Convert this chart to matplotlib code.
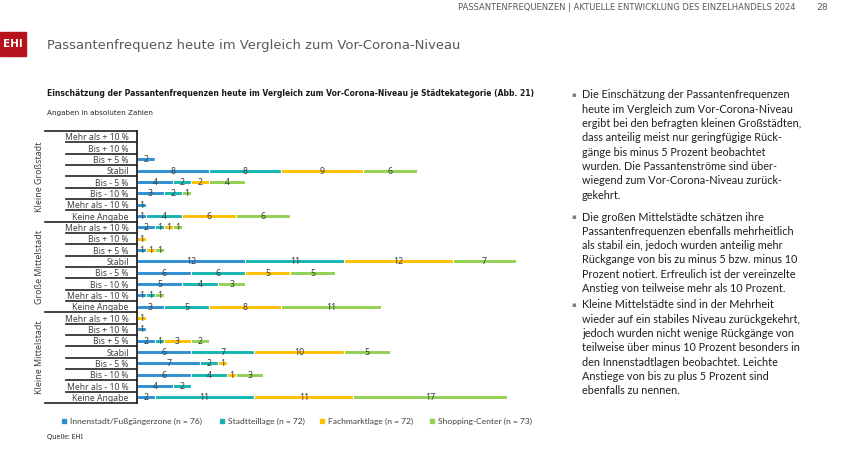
import matplotlib
matplotlib.use("Agg")
import matplotlib.pyplot as plt
import matplotlib.transforms as mtransforms
from matplotlib.lines import Line2D
from matplotlib.patches import Rectangle
import numpy as np

# ---------------- data ----------------
categories = ["Mehr als + 10 %", "Bis + 10 %", "Bis + 5 %", "Stabil",
              "Bis - 5 %", "Bis - 10 %", "Mehr als - 10 %", "Keine Angabe"]
groups = ["Kleine Großstadt", "Große Mittelstadt", "Kleine Mittelstadt"]
series = ["Innenstadt/Fußgängerzone (n = 76)", "Stadtteillage (n = 72)",
          "Fachmarktlage (n = 72)", "Shopping-Center (n = 73)"]
innenstadt = [0, 0, 2, 8, 4, 3, 1, 1,
              2, 0, 1, 12, 6, 5, 1, 3,
              0, 1, 2, 6, 7, 6, 4, 2]
stadtteil = [0, 0, 0, 8, 2, 2, 0, 4,
             1, 0, 0, 11, 6, 4, 1, 5,
             0, 0, 1, 7, 2, 4, 2, 11]
fachmarkt = [0, 0, 0, 9, 2, 0, 0, 6,
             1, 1, 1, 12, 5, 0, 0, 8,
             1, 0, 3, 10, 1, 1, 0, 11]
shopping = [0, 0, 0, 6, 4, 1, 0, 6,
            1, 0, 1, 7, 5, 3, 1, 11,
            0, 0, 2, 5, 0, 3, 0, 17]
colors = ["#2E8FD0", "#14B4B0", "#FFC000", "#92D050"]

header = "PASSANTENFREQUENZEN | AKTUELLE ENTWICKLUNG DES EINZELHANDELS 2024"
page = "28"
title = "Passantenfrequenz heute im Vergleich zum Vor-Corona-Niveau"
chart_title = ("Einschätzung der Passantenfrequenzen heute im Vergleich zum "
               "Vor-Corona-Niveau je Städtekategorie (Abb. 21)")
subtitle = "Angaben in absoluten Zahlen"
source = "Quelle: EHI"
bullets = [
    ["Die Einschätzung der Passantenfrequenzen",
     "heute im Vergleich zum Vor-Corona-Niveau",
     "ergibt bei den befragten kleinen Großstädten,",
     "dass anteilig meist nur geringfügige Rück-",
     "gänge bis minus 5 Prozent beobachtet",
     "wurden. Die Passantenströme sind über-",
     "wiegend zum Vor-Corona-Niveau zurück-",
     "gekehrt."],
    ["Die großen Mittelstädte schätzen ihre",
     "Passantenfrequenzen ebenfalls mehrheitlich",
     "als stabil ein, jedoch wurden anteilig mehr",
     "Rückgange von bis zu minus 5 bzw. minus 10",
     "Prozent notiert. Erfreulich ist der vereinzelte",
     "Anstieg von teilweise mehr als 10 Prozent."],
    ["Kleine Mittelstädte sind in der Mehrheit",
     "wieder auf ein stabiles Niveau zurückgekehrt,",
     "jedoch wurden nicht wenige Rückgänge von",
     "teilweise über minus 10 Prozent besonders in",
     "den Innenstadtlagen beobachtet. Leichte",
     "Anstiege von bis zu plus 5 Prozent sind",
     "ebenfalls zu nennen."],
]

# ---------------- layout ----------------
W, H = 843, 454
fig = plt.figure(figsize=(W / 100, H / 100), dpi=100)
plt.rcParams['font.family'] = ['Noto Sans', 'DejaVu Sans']
NARROW = ["Liberation Sans Narrow", "DejaVu Sans"]

def fx(px):
    return px / W

def fy(py):
    return 1 - py / H

ax_left, ax_right, ax_top, ax_bottom = 137, 545, 131, 403
ax = fig.add_axes([fx(ax_left), fy(ax_bottom), fx(ax_right - ax_left),
                   (ax_bottom - ax_top) / H])

values = [innenstadt, stadtteil, fachmarkt, shopping]
n = len(innenstadt)
y = np.arange(n)
left = np.zeros(n)
for vals, col, name in zip(values, colors, series):
    vals = np.array(vals, dtype=float)
    ax.barh(y, vals, left=left, height=0.36, color=col,
            edgecolor="white", linewidth=0.8, label=name)
    for yi, (l, v) in enumerate(zip(left, vals)):
        if v > 0:
            ax.text(l + v / 2, yi + 0.05, f"{int(v)}", ha="center", va="center",
                    fontsize=6.3, color="#3a3a3a")
    left += vals

ax.set_xlim(0, (ax_right - ax_left) / 9.02)
ax.set_ylim(n - 0.5, -0.5)
ax.set_xticks([])
ax.set_yticks(y)
ax.set_yticklabels(categories * len(groups), fontsize=6.2, color="#404040")
ax.tick_params(axis="y", length=0, pad=6)
for s in ["top", "right", "bottom"]:
    ax.spines[s].set_visible(False)
ax.spines["left"].set_linewidth(1.3)
ax.spines["left"].set_color("#222222")

# table lines
trans = mtransforms.blended_transform_factory(fig.transFigure, ax.transData)
ncat = len(categories)
for b in range(n + 1):
    yb = b - 0.5
    x0 = 45 if b % ncat == 0 else 66
    fig.add_artist(Line2D([fx(x0), fx(ax_left)], [yb, yb], transform=trans,
                          color="#222222", linewidth=1.2))
for gi, g in enumerate(groups):
    yc = gi * ncat + (ncat - 1) / 2
    t = fig.text(fx(40), 0, g, rotation=90, ha="center",
                 va="center", fontsize=6.4, color="#404040")
    t.set_transform(trans)
    t.set_position((fx(40), yc))

# legend
leg_x = [62, 220, 320, 430]
for lx, col, name in zip(leg_x, colors, series):
    fig.add_artist(Rectangle((fx(lx), fy(423)), fx(4), 4 / H,
                             transform=fig.transFigure, color=col))
    fig.text(fx(lx + 8), fy(421), name, ha="left", va="center",
             fontsize=6.1, color="#404040", family=["Lato", "DejaVu Sans"])

fig.text(fx(47), fy(438), source, ha="left", va="center", fontsize=5.0,
         color="#262626")

# header & titles
fig.text(fx(795), fy(7), header, ha="right", va="center", fontsize=6.05,
         color="#595959", family=NARROW)
fig.text(fx(822), fy(7), page, ha="center", va="center", fontsize=6.6,
         color="#595959", family=NARROW)
fig.add_artist(Rectangle((0, fy(56)), fx(26), 24 / H,
                         transform=fig.transFigure, color="#B5121B"))
fig.text(fx(13), fy(44), "EHI", ha="center", va="center", fontsize=7.5,
         color="white", weight="bold", family=["DejaVu Sans"])
fig.text(fx(47), fy(45), title, ha="left", va="center", fontsize=9.45,
         color="#595959", family=NARROW)
fig.text(fx(47), fy(93), chart_title, ha="left", va="center", fontsize=5.5,
         color="#1a1a1a", weight="bold", family=NARROW)
fig.text(fx(47), fy(113), subtitle, ha="left", va="center", fontsize=5.25,
         color="#262626", family=NARROW)

# right text
para_y = [95, 217, 305]
line_h = 14.3
for ys, para in zip(para_y, bullets):
    fig.text(fx(571), fy(ys), "▪", ha="left", va="center", fontsize=5.0,
             color="#7f7f7f", family=["DejaVu Sans"])
    for i, line in enumerate(para):
        fig.text(fx(582), fy(ys + i * line_h), line, ha="left", va="center",
                 fontsize=7.85, color="#1f1f1f", family=["Lato", "DejaVu Sans"])

fig.savefig("out.png", dpi=100)
